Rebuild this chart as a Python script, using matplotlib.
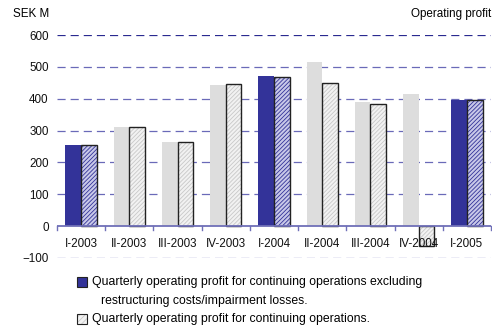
import matplotlib
matplotlib.use("Agg")
import matplotlib.pyplot as plt
import numpy as np
from matplotlib.patches import Rectangle

plt.rcParams["font.family"] = ["Liberation Sans", "DejaVu Sans"]
plt.rcParams["hatch.linewidth"] = 0.6

quarters = ["I-2003", "II-2003", "III-2003", "IV-2003", "I-2004",
            "II-2004", "III-2004", "IV-2004", "I-2005"]
# left bar: excl. restructuring costs/impairment losses (grey = comparison quarters)
excl_restructuring = [255, 311, 265, 444, 471, 515, 389, 414, 395]
# right bar: continuing operations
continuing_ops = [255, 311, 263, 445, 467, 450, 383, -63, 397]
highlight = [True, False, False, False, True, False, False, False, True]
y_ticks = [-100, 0, 100, 200, 300, 400, 500, 600]

NAVY = "#333399"
GREY = "#dddddd"
FS = 8.4

fig = plt.figure(figsize=(4.92, 3.29), dpi=100)
ax = fig.add_axes([57 / 492, 1 - 258 / 329, 434 / 492, 223 / 329])

x = np.arange(len(quarters))
w = 0.325
left_colors = [NAVY if h else GREY for h in highlight]
ax.bar(x - w / 2, excl_restructuring, w, color=left_colors, linewidth=0, zorder=3)
for xi, v, h in zip(x, continuing_ops, highlight):
    ax.bar(xi + w / 2, v, w, facecolor="#c8c8e8" if h else "#f2f2f2",
           edgecolor="#222222", linewidth=1.0, zorder=3)
    bar = ax.patches[-1]
    bar.set_hatch("////////")
    bar._hatch_color = matplotlib.colors.to_rgba(NAVY if h else "#c8c8c8")

# dashed grid
for yv in y_ticks:
    if yv == 0:
        continue
    ax.axhline(yv, color="#2a2a90" if yv == 600 else "#6a6ab8", lw=0.9,
               dashes=(6.5, 4), zorder=1)
ax.axhline(0, color="#7070b8", lw=1.3, zorder=4)
for b in np.arange(len(quarters) + 1) - 0.5:
    ax.plot([b, b], [0, -13], color="#7070b8", lw=1.0, zorder=4, clip_on=False)

for xi, q in zip(x, quarters):
    ax.text(xi, -55, q, ha="center", va="center", fontsize=FS, color="#111111")

ax.set_xlim(-0.5, len(quarters) - 0.5)
ax.set_ylim(-100, 600)
ax.set_xticks([])
ax.set_yticks(y_ticks)
ax.tick_params(axis="y", length=0, pad=6, labelsize=FS, labelcolor="#111111")
for s in ax.spines.values():
    s.set_visible(False)

fig.text(13 / 492, 1 - 14 / 329, "SEK M", fontsize=FS, va="center", ha="left")
fig.text(491 / 492, 1 - 14 / 329, "Operating profit", fontsize=FS,
         va="center", ha="right")

# legend
def fig_box(px, py, face, hatch=None, hcolor=None):
    r = Rectangle((px / 492, 1 - (py + 5) / 329), 10 / 492, 10 / 329,
                  transform=fig.transFigure, facecolor=face,
                  edgecolor="#222222", linewidth=0.8, hatch=hatch)
    if hcolor:
        r._hatch_color = matplotlib.colors.to_rgba(hcolor)
    fig.add_artist(r)

LFS = 8.8
fig_box(77, 282, NAVY)
fig.text(92 / 492, 1 - 282 / 329,
         "Quarterly operating profit for continuing operations excluding",
         fontsize=LFS, va="center")
fig.text(101 / 492, 1 - 301 / 329, "restructuring costs/impairment losses.",
         fontsize=LFS, va="center")
fig_box(77, 319, "#f2f2f2", "//////", "#c8c8c8")
fig.text(92 / 492, 1 - 319 / 329, "Quarterly operating profit for continuing operations.",
         fontsize=LFS, va="center")

fig.savefig("out.png", dpi=100)
